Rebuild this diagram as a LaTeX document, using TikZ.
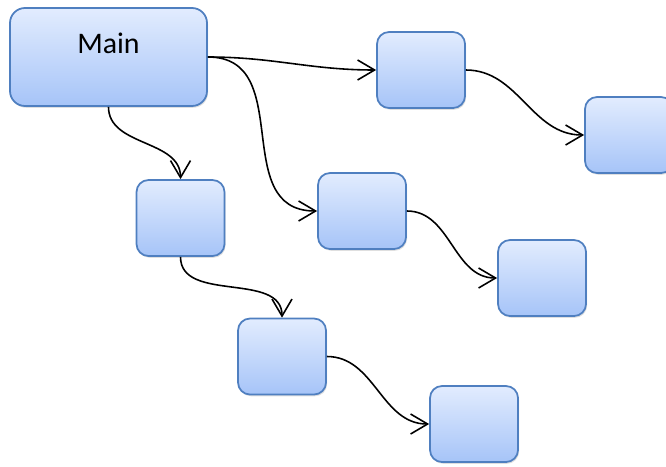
\documentclass[tikz,border=0pt]{standalone}
\usepackage{fontspec}
\setmainfont{Carlito}
\usetikzlibrary{arrows.meta,shadows}
\definecolor{boxline}{HTML}{4F7FC0}
\definecolor{boxtop}{HTML}{E2ECFE}
\definecolor{boxbottom}{HTML}{A6C4F8}
\begin{document}
\begin{tikzpicture}[
    task/.style={draw=boxline, line width=1pt, rounded corners=0.24cm,
        top color=boxtop, bottom color=boxbottom,
        minimum width=1.76cm, minimum height=1.52cm,
        drop shadow={shadow xshift=0.6pt, shadow yshift=-1pt, opacity=0.25}},
    link/.style={line width=0.9pt, -{Straight Barb[length=0.34cm, width=0.4cm]}}
]

    \useasboundingbox (0,0) rectangle (13.32,-9.32);

    \node[task, rounded corners=0.3cm, minimum width=3.94cm, minimum height=1.96cm,
        font=\fontsize{17}{20}\selectfont, text height=0.4cm, text depth=0.56cm]
        (main) at (2.17,-1.14) {Main};

    \node[task] (b1) at (8.42,-1.40) {};
    \node[task] (b2) at (12.58,-2.70) {};
    \node[task] (b3) at (7.24,-4.22) {};
    \node[task] (b4) at (10.84,-5.56) {};
    \node[task] (b5) at (3.61,-4.36) {};
    \node[task] (b6) at (5.64,-7.13) {};
    \node[task] (b7) at (9.48,-8.48) {};

    \draw[link] (main.east) to[out=0,in=180] (b1.west);
    \draw[link] (main.east) to[out=0,in=180,looseness=1.2] (b3.west);
    \draw[link] (main.south) to[out=-90,in=90] (b5.north);

    \draw[link] (b1.east) to[out=0,in=180] (b2.west);
    \draw[link] (b3.east) to[out=0,in=180] (b4.west);
    \draw[link] (b5.south) to[out=-90,in=90] (b6.north);
    \draw[link] (b6.east) to[out=0,in=180] (b7.west);

\end{tikzpicture}
\end{document}
